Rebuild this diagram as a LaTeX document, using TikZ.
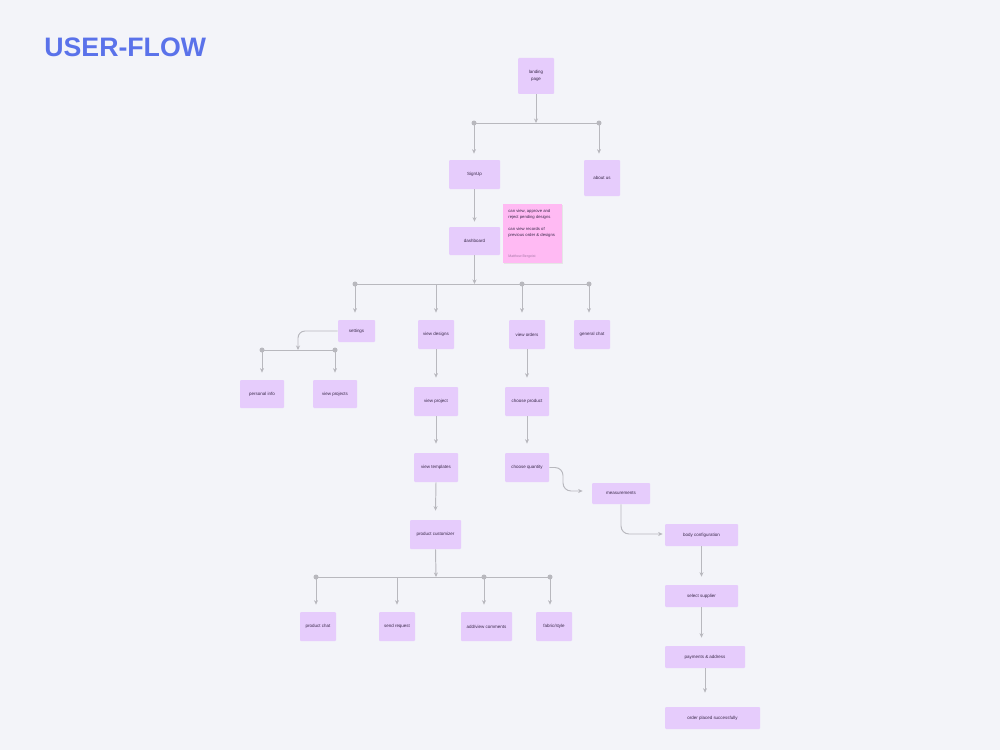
\documentclass[tikz,border=0pt]{standalone}
\usepackage{fontspec}
\setmainfont{Liberation Sans}
\usetikzlibrary{arrows.meta}
\definecolor{bg}{HTML}{F3F4F9}
\definecolor{boxc}{HTML}{E6CCFC}
\definecolor{sticky}{HTML}{FFBAF3}
\definecolor{linec}{HTML}{B8B8BE}
\definecolor{titlec}{HTML}{5A72EA}
\definecolor{txt}{HTML}{3A2A4A}
\tikzset{
  bx/.style 2 args={rectangle, fill=boxc, rounded corners=0.02cm, minimum width=#1*0.02cm, minimum height=#2*0.02cm, inner sep=0pt, align=center, font=\fontsize{2.55}{3.4}\selectfont, text=txt},
  conn/.style={draw=linec, line width=0.55pt},
  arr/.style={conn, -{Stealth[length=0.09cm,width=0.08cm]}},
  dot/.style={fill=linec}
}
\begin{document}
\begin{tikzpicture}[x=0.02cm,y=-0.02cm]
\fill[bg] (0,0) rectangle (1000,750);
\useasboundingbox (0,0) rectangle (1000,750);
\node[anchor=west, inner sep=0pt, text=titlec, font=\fontsize{15.2}{17}\selectfont\bfseries] (title) at (44,47.5) {USER-FLOW};

% nodes
\node[bx={36}{36}] (landing) at (536,76) {landing\\[0.4pt]page};
\node[bx={51}{29}] (signup) at (474.5,174.5) {SignUp};
\node[bx={36}{36}] (about) at (602,178) {about us};
\node[bx={51}{28}] (dash) at (474.5,241) {dashboard};
\node[bx={37}{22}] (settings) at (356.5,331) {settings};
\node[bx={36}{29}] (vdesigns) at (436,334.5) {view designs};
\node[bx={36}{29}] (vorders) at (527,334.5) {view orders};
\node[bx={36}{29}] (gchat) at (592,334.5) {general chat};
\node[bx={44}{28}] (pinfo) at (262,394) {personal info};
\node[bx={44}{28}] (vprojects) at (335,394) {view projects};
\node[bx={44}{29}] (vproject) at (436,401.5) {view project};
\node[bx={44}{29}] (cproduct) at (527,401.5) {choose product};
\node[bx={44}{29}] (vtemplates) at (436,467.5) {view templates};
\node[bx={44}{29}] (cquantity) at (527,467.5) {choose quantity};
\node[bx={58}{21}] (meas) at (621,493.5) {measurements};
\node[bx={73}{22}] (body) at (701.5,535) {body configuration};
\node[bx={73}{22}] (supplier) at (701.5,596) {select supplier};
\node[bx={80}{22}] (pay) at (705,657) {payments \& address};
\node[bx={95}{22}] (placed) at (712.5,718) {order placed successfully};
\node[bx={51}{29}] (custom) at (435.5,534.5) {product customizer};
\node[bx={36}{29}] (pchat) at (318,626.5) {product chat};
\node[bx={36}{29}] (sreq) at (397,626.5) {send request};
\node[bx={51}{29}] (comments) at (486.5,626.5) {add/view comments};
\node[bx={36}{29}] (fabric) at (554,626.5) {fabric/style};

% sticky note
\fill[black!10] (504,205) rectangle (563,264);
\node[rectangle, fill=sticky, minimum width=59*0.02cm, minimum height=59*0.02cm, inner sep=0pt] (note) at (532.5,233.5) {};
\node[anchor=north west, align=left, inner sep=0pt, text=txt, font=\fontsize{2.4}{3.4}\selectfont] (notetext) at (508,209) {can view, approve and\\reject pending designs\\[3.4pt]can view records of\\previous order \& designs};
\node[anchor=west, inner sep=0pt, text=txt!45!sticky, font=\fontsize{2}{2.6}\selectfont] (author) at (508,256.5) {Matthew Bergeist};

% level 1
\coordinate (b1) at (536,123);
\coordinate (b1L) at (474,123);
\coordinate (b1R) at (599,123);
\draw[conn] (b1L) -- (b1R);
\draw[arr] (landing.south) -- (b1);
\draw[arr] (b1L) -- ([yshift=6*0.02cm]b1L |- signup.north);
\draw[arr] (b1R) -- ([yshift=6*0.02cm]b1R |- about.north);
\fill[dot] (b1L) circle[radius=0.05cm];
\fill[dot] (b1R) circle[radius=0.05cm];

\draw[arr] (signup.south) -- ([yshift=5*0.02cm]dash.north);

% level 2
\coordinate (b2) at (474.5,284);
\coordinate (b2a) at (355,284);
\coordinate (b2b) at (436,284);
\coordinate (b2c) at (522,284);
\coordinate (b2d) at (589,284);
\draw[conn] (b2a) -- (b2d);
\draw[arr] (dash.south) -- (b2);
\draw[arr] (b2a) -- ([yshift=7*0.02cm]b2a |- settings.north);
\draw[arr] (b2b) -- ([yshift=7*0.02cm]b2b |- vdesigns.north);
\draw[arr] (b2c) -- ([yshift=7*0.02cm]b2c |- vorders.north);
\draw[arr] (b2d) -- ([yshift=7*0.02cm]b2d |- gchat.north);
\fill[dot] (b2a) circle[radius=0.05cm];
\fill[dot] (b2c) circle[radius=0.05cm];
\fill[dot] (b2d) circle[radius=0.05cm];

% settings
\coordinate (b3) at (298,350);
\coordinate (b3L) at (262,350);
\coordinate (b3R) at (335,350);
\draw[conn] (b3L) -- (b3R);
\draw[arr, rounded corners=0.14cm] (settings.west) -- (298,331) -- (b3);
\draw[arr] (b3L) -- ([yshift=7*0.02cm]b3L |- pinfo.north);
\draw[arr] (b3R) -- ([yshift=7*0.02cm]b3R |- vprojects.north);
\fill[dot] (b3L) circle[radius=0.05cm];
\fill[dot] (b3R) circle[radius=0.05cm];

% columns
\draw[arr] (vdesigns.south) -- ([yshift=9*0.02cm]vproject.north);
\draw[arr] (vorders.south) -- ([yshift=9*0.02cm]cproduct.north);
\draw[arr] (vproject.south) -- ([yshift=9*0.02cm]vtemplates.north);
\draw[arr] (cproduct.south) -- ([yshift=9*0.02cm]cquantity.north);
\draw[arr] (vtemplates.south) -- ([yshift=9*0.02cm]custom.north);

% order flow
\draw[arr, rounded corners=0.16cm] (cquantity.east) -- (563,467.5) -- (563,491) -- ([xshift=-9*0.02cm]meas.west |- 0,491);
\draw[arr, rounded corners=0.16cm] (meas.south) -- (621,534) -- ([xshift=-2*0.02cm]body.west |- 0,534);
\draw[arr] (body.south) -- ([yshift=8*0.02cm]supplier.north);
\draw[arr] (supplier.south) -- ([yshift=8*0.02cm]pay.north -| supplier.south);
\draw[arr] (pay.south) -- ([yshift=14*0.02cm]placed.north -| pay.south);

% customizer
\coordinate (b4) at (436,577);
\coordinate (b4a) at (316,577);
\coordinate (b4b) at (397,577);
\coordinate (b4c) at (484,577);
\coordinate (b4d) at (550,577);
\draw[conn] (b4a) -- (b4d);
\draw[arr] (custom.south) -- (b4);
\draw[arr] (b4a) -- ([yshift=7*0.02cm]b4a |- pchat.north);
\draw[arr] (b4b) -- ([yshift=7*0.02cm]b4b |- sreq.north);
\draw[arr] (b4c) -- ([yshift=7*0.02cm]b4c |- comments.north);
\draw[arr] (b4d) -- ([yshift=7*0.02cm]b4d |- fabric.north);
\fill[dot] (b4a) circle[radius=0.05cm];
\fill[dot] (b4c) circle[radius=0.05cm];
\fill[dot] (b4d) circle[radius=0.05cm];
\end{tikzpicture}
\end{document}
